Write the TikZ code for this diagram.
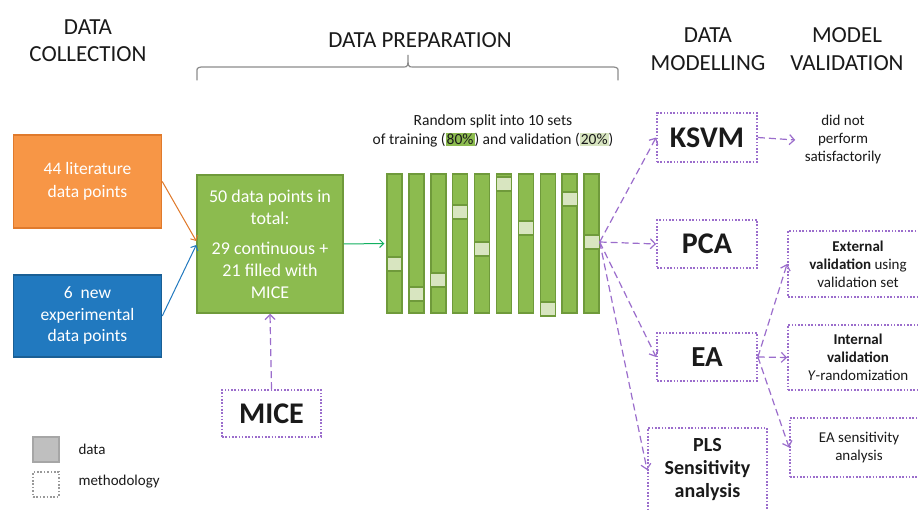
\documentclass[tikz,border=0pt]{standalone}
\usepackage{fontspec}
\setmainfont{Carlito}
\usetikzlibrary{arrows.meta,calc}
\definecolor{orfill}{HTML}{F79646}
\definecolor{ordraw}{HTML}{E07A2C}
\definecolor{blfill}{HTML}{2179BF}
\definecolor{bldraw}{HTML}{1A5F95}
\definecolor{grfill}{HTML}{8CBB4F}
\definecolor{grdraw}{HTML}{6F9A3B}
\definecolor{grlight}{HTML}{D8E5C0}
\definecolor{teal2}{HTML}{12B060}
\definecolor{purp}{HTML}{9B6DCC}
\definecolor{txt}{HTML}{1A1A1A}
\definecolor{gbrace}{HTML}{8C8C8C}
\tikzset{
  databox/.style={rectangle, line width=1.5pt, text=white, align=center, inner sep=0pt},
  meth/.style={rectangle, draw=purp, line width=1.8pt, dash pattern=on 1.6pt off 1.7pt, align=center, inner sep=0pt, text=txt},
  darr/.style={draw=purp, line width=1.2pt, dash pattern=on 7pt off 4pt, -{Straight Barb[length=5pt,width=10pt]}},
  sarr/.style={line width=1pt, -{Straight Barb[length=4pt,width=8pt]}},
  head/.style={text=txt, align=center, font=\fontsize{23}{27}\selectfont},
  bar/.style={rectangle, fill=grfill, draw=grdraw, line width=1.5pt, minimum width=15pt, minimum height=139pt, inner sep=0pt},
  vsq/.style={rectangle, fill=grlight, draw=grdraw, line width=1.2pt, minimum width=15pt, minimum height=14pt, inner sep=0pt},
  big/.style={font=\fontsize{30}{32}\selectfont\bfseries},
  small/.style={font=\fontsize{15}{18}\selectfont},
}
\begin{document}
\begin{tikzpicture}[x=1pt,y=-1pt]
\useasboundingbox (0,0) rectangle (918,510);
\clip (0,0) rectangle (918,510);
\fill[white] (0,0) rectangle (918,510);

% headings
\node[head] (hcol) at (88,41) {DATA\\COLLECTION};
\node[head] (hprep) at (420,40) {DATA PREPARATION};
\node[head, font=\fontsize{23}{28}\selectfont] (hmod) at (708,49) {DATA\\MODELLING};
\node[head, font=\fontsize{23}{28}\selectfont] (hval) at (847,49) {MODEL\\VALIDATION};

% brace
\draw[gbrace, line width=1.2pt, line cap=round]
  (197,80) -- (197,72) .. controls (197,68) .. (201,67) -- (403,67)
  .. controls (408,67) .. (408,55) .. controls (408,67) .. (413,67) -- (614,67)
  .. controls (618,68) .. (618,72) -- (618,80);

% data collection boxes
\node[databox, fill=orfill, draw=ordraw, minimum width=148pt, minimum height=93pt,
  font=\fontsize{17.5}{23}\selectfont] (lit) at (87.5,181.5) {44 literature\\data points};
\node[databox, fill=blfill, draw=bldraw, minimum width=148pt, minimum height=82pt,
  font=\fontsize{17.5}{21.5}\selectfont] (exp) at (87.5,316) {6~~new\\experimental\\data points};
\node[databox, fill=grfill, draw=grdraw, minimum width=146pt, minimum height=138pt,
  font=\fontsize{18}{22}\selectfont] (tot) at (270,244)
  {50 data points in\\total:\\[8pt]29 continuous +\\21 filled with\\MICE};

\draw[sarr, ordraw] (lit.east) -- ($(tot.west)+(0,-3)$);
\draw[sarr, blfill] (exp.east) -- ($(tot.west)+(0,1)$);

% MICE
\node[meth, big, minimum width=99pt, minimum height=47pt] (mice) at (271.5,413.5) {MICE};
\draw[darr] (mice.north) -- (tot.south);

% split text
\node[text=txt, align=center, font=\fontsize{15.5}{19}\selectfont] (split) at (493,131)
  {Random split into 10 sets\\of training ({\fboxsep=1pt\colorbox{grfill}{80\%}}) and validation ({\fboxsep=1pt\colorbox{grlight}{20\%}})};

% bars
\foreach \i/\t in {1/257,2/287,3/273,4/205,5/242,6/177,7/221,8/302,9/192,10/235}{
  \pgfmathsetmacro{\xx}{387+(\i-1)*21.9+7.5}
  \node[bar] (b\i) at (\xx,243.5) {};
  \node[vsq] (v\i) at (\xx,\t+7) {};
}
\draw[sarr, teal2] (tot.east) -- ($(b1.west)+(-2,0)$);

% modelling boxes
\node[meth, big, minimum width=100pt, minimum height=49pt] (ksvm) at (707,137.5) {KSVM};
\node[meth, big, minimum width=100pt, minimum height=48pt] (pca) at (707,244) {PCA};
\node[meth, big, font=\fontsize{29}{32}\selectfont\bfseries, minimum width=100pt, minimum height=48pt] (ea) at (707,357) {EA};
\node[meth, minimum width=119pt, minimum height=84pt, font=\fontsize{20}{23}\selectfont\bfseries] (pls) at (707.5,470) {PLS\\Sensitivity\\analysis};

\draw[darr] (v10.east) -- (ksvm.west);
\draw[darr] (v10.east) -- (pca.west);
\draw[darr] (v10.east) -- (ea.west);
\draw[darr] (v10.east) -- (pls.west);

% validation
\node[small, text=txt, align=center] (dnp) at (843,140) {did not\\perform\\satisfactorily};
\draw[darr] (ksvm.east) -- ([xshift=-6pt]dnp.west);

\node[meth, small, minimum width=140pt, minimum height=66pt] (ext) at (858,264) {\textbf{External}\\\textbf{validation} using\\validation set};
\node[meth, small, minimum width=140pt, minimum height=65pt] (int) at (858,357.5) {\textbf{Internal}\\\textbf{validation}\\\textit{Y}-randomization};
\node[meth, small, minimum width=138pt, minimum height=59pt] (sens) at (859,447.5) {EA sensitivity\\analysis};

\draw[darr] (ea.east) -- (ext.west);
\draw[darr] (ea.east) -- (int.west);
\draw[darr] (ea.east) -- (sens.west);

% legend
\node[rectangle, fill=black!25, draw=black!35, line width=1.5pt, minimum width=26pt, minimum height=25pt, inner sep=0pt] (ldata) at (46,449.5) {};
\node[rectangle, draw=black!40, line width=2pt, dash pattern=on 1.6pt off 1.8pt, minimum width=26pt, minimum height=25pt, inner sep=0pt] (lmeth) at (46,484.5) {};
\node[small, text=txt, anchor=west] (ldt) at (75,449.5) {data};
\node[small, text=txt, anchor=west] (lmt) at (75,482) {methodology};
\end{tikzpicture}
\end{document}
